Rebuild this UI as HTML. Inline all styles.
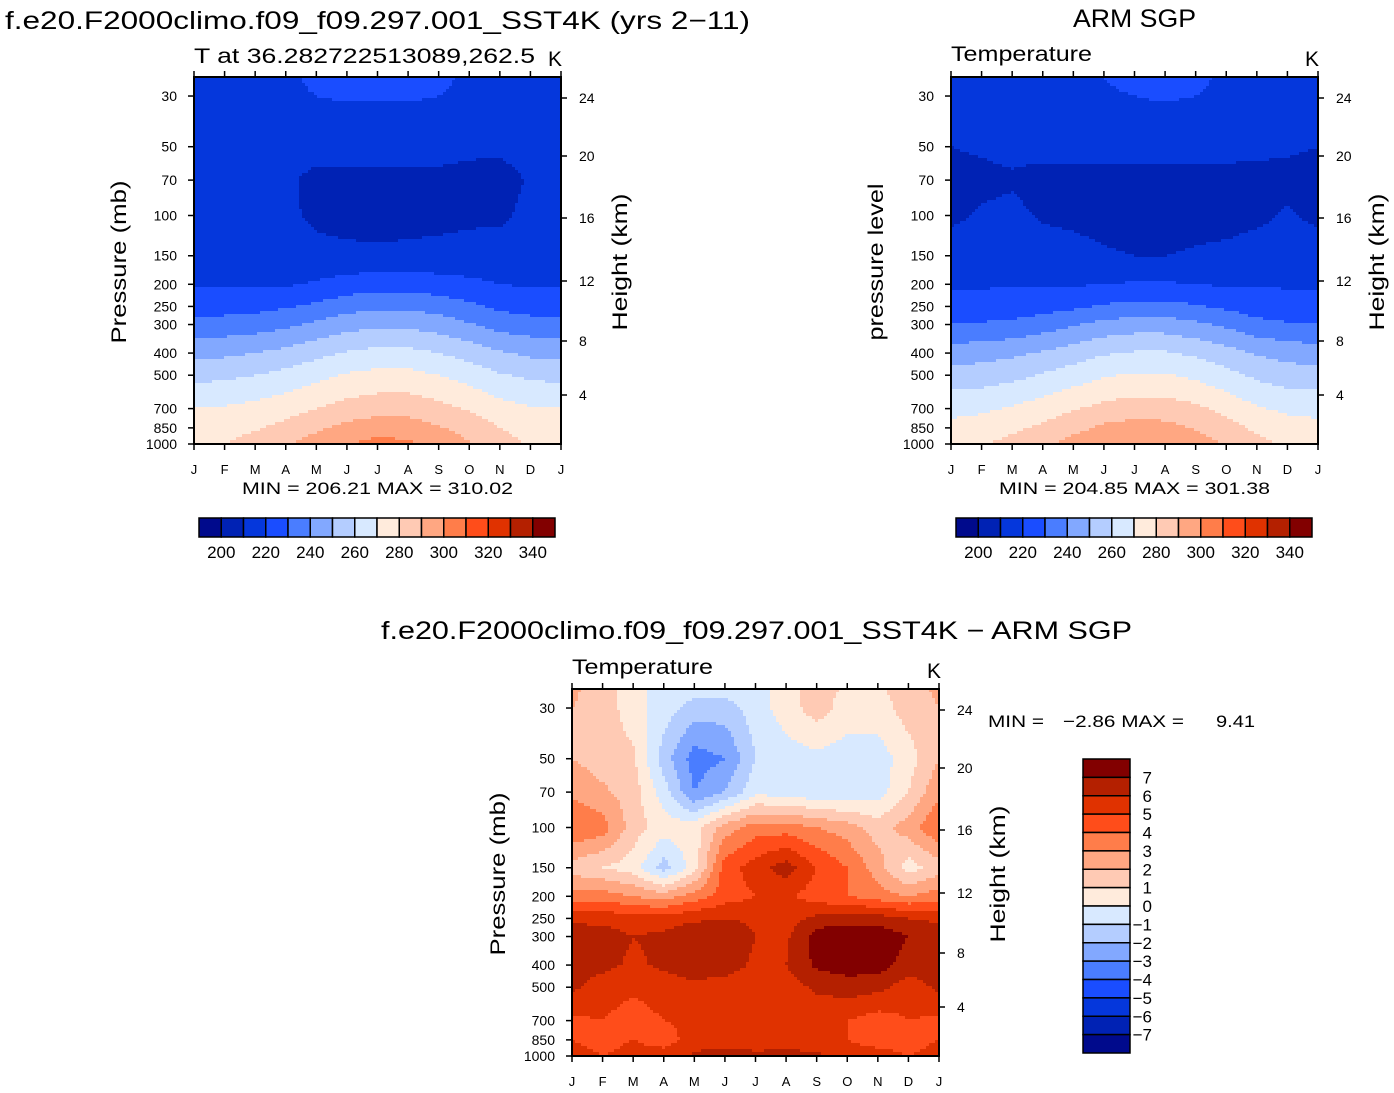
<!DOCTYPE html>
<html><head><meta charset="utf-8">
<style>
html,body{margin:0;padding:0;background:#fff;}
svg{display:block;font-family:"Liberation Sans",sans-serif;}
</style></head>
<body>
<svg id="fig" width="1394" height="1093" viewBox="0 0 1394 1093" xmlns="http://www.w3.org/2000/svg">
<g id="texts">
<text x="5" y="29" font-size="25" textLength="745" lengthAdjust="spacingAndGlyphs">f.e20.F2000climo.f09_f09.297.001_SST4K (yrs 2−11)</text>
<text x="1073" y="27" font-size="25" textLength="123" lengthAdjust="spacingAndGlyphs">ARM SGP</text>
<text x="194" y="63" font-size="21" textLength="341" lengthAdjust="spacingAndGlyphs">T at 36.282722513089,262.5</text>
<text x="548" y="66" font-size="21">K</text>
<text x="951" y="61" font-size="21" textLength="141" lengthAdjust="spacingAndGlyphs">Temperature</text>
<text x="1305" y="66" font-size="21">K</text>
<text x="242" y="494" font-size="17" textLength="271" lengthAdjust="spacingAndGlyphs">MIN  =  206.21  MAX  =  310.02</text>
<text x="999" y="494" font-size="17" textLength="271" lengthAdjust="spacingAndGlyphs">MIN  =  204.85  MAX  =  301.38</text>
<text x="381" y="639" font-size="25" textLength="751" lengthAdjust="spacingAndGlyphs">f.e20.F2000climo.f09_f09.297.001_SST4K − ARM SGP</text>
<text x="572" y="674" font-size="21" textLength="141" lengthAdjust="spacingAndGlyphs">Temperature</text>
<text x="927" y="678" font-size="21">K</text>
<text x="988" y="727" font-size="17" textLength="56" lengthAdjust="spacingAndGlyphs">MIN  =</text>
<text x="1063" y="727" font-size="17" textLength="121" lengthAdjust="spacingAndGlyphs">−2.86  MAX  =</text>
<text x="1216" y="727" font-size="17" textLength="39" lengthAdjust="spacingAndGlyphs">9.41</text>
<text transform="translate(126,262) rotate(-90)" font-size="21" text-anchor="middle" textLength="163" lengthAdjust="spacingAndGlyphs">Pressure  (mb)</text>
<text transform="translate(627,262) rotate(-90)" font-size="21" text-anchor="middle" textLength="137" lengthAdjust="spacingAndGlyphs">Height  (km)</text>
<text transform="translate(883,262) rotate(-90)" font-size="21" text-anchor="middle" textLength="157" lengthAdjust="spacingAndGlyphs">pressure  level</text>
<text transform="translate(1384,262) rotate(-90)" font-size="21" text-anchor="middle" textLength="137" lengthAdjust="spacingAndGlyphs">Height  (km)</text>
<text transform="translate(505,874) rotate(-90)" font-size="21" text-anchor="middle" textLength="163" lengthAdjust="spacingAndGlyphs">Pressure  (mb)</text>
<text transform="translate(1005,874) rotate(-90)" font-size="21" text-anchor="middle" textLength="137" lengthAdjust="spacingAndGlyphs">Height  (km)</text>
</g>
</svg>
<script>
const months=['J','F','M','A','M','J','J','A','S','O','N','D','J'];
const plev=[1000,850,700,500,400,300,250,200,150,100,70,50,30,25];
const pLabels=[30,50,70,100,150,200,250,300,400,500,700,850,1000];
const hLabels=[24,20,16,12,8,4];
const hPos=[21,79,141,204,264,318];
const topColors=['#000a8c','#0022b4','#0537dc','#1a4dff','#4a7dff','#82a8ff','#b4cdff','#d8e9ff','#ffebdc','#ffcab4','#ffa782','#ff7d4a','#ff4d1a','#e03200','#b42000','#820000'];
const topBarLabels=[200,220,240,260,280,300,320,340];
const diffBarLabels=[7,6,5,4,3,2,1,0,-1,-2,-3,-4,-5,-6,-7];
const tModel=[
[278,280,284,289,295,300,303,302,297,291,284,279,278],
[275,276,279,283,288,293,296,295,291,286,280,276,275],
[270,271,273,276,280,284,286,286,283,279,274,271,270],
[257,258,260,263,267,271,273,273,270,266,261,258,257],
[247,248,250,253,257,261,263,263,260,256,251,248,247],
[233,234,235,238,242,246,248,248,245,241,236,234,233],
[226,226,227,229,232,236,238,238,236,232,228,226,226],
[219,219,219,219,221,224,226,226,224,222,220,219,219],
[215,215,215,215,213,212,212,212,213,214,215,215,215],
[214,214,214,212,208,207,206,207,207,208,208,213,214],
[214,214,214,212,207,208,208,208,208,207,206,211,214],
[215,215,215,215,214,213,213,213,213,212,212,214,215],
[219,219,219,219,220,221,221,221,220,219,219,219,219],
[219,219,219,219,221,222,222,222,221,219,219,219,219]];
const tObs=[
[277,279,283,288,294,298,301,300,295,289,283,278,277],
[273,275,278,282,287,292,294,293,289,284,278,274,273],
[267,268,271,275,279,283,285,285,282,277,271,268,267],
[254,255,257,261,265,269,271,271,268,263,258,255,254],
[245,246,248,251,255,259,261,261,258,254,249,246,245],
[230,231,232,235,239,243,245,245,242,238,233,231,230],
[224,224,225,226,228,231,233,233,231,228,225,224,224],
[219,219,219,219,219,220,221,221,220,219,219,219,219],
[215,215,215,214,213,211,210,210,211,212,214,215,215],
[208,211,212,209,208,207,206,206,207,207,208,211,208],
[207,208,209,207,207,207,207,207,207,207,207,208,207],
[210,211,212,213,213,213,213,213,213,213,212,211,210],
[218,218,218,219,219,219,220,221,220,219,218,218,218],
[218,218,218,219,219,220,222,222,221,219,218,218,218]];
const tDiff=[
[5.5,5,5.5,5.5,6.2,6.5,6.5,6.3,6.2,5.5,5.5,5,5.5],
[5,4.5,5,4.5,5.5,5.5,5,5.5,5.5,5,4.5,4.5,5],
[4.8,5,4.5,5,5.2,5,5.5,5,5.2,5,4.5,5,4.8],
[6.2,5.5,5.2,5.5,5.8,5.5,5.2,5.5,6.2,6.5,6.3,5.5,6.2],
[6.5,6.3,5.8,6.2,6.5,6.5,5.8,6,7.2,7.5,7.5,6.5,6.5],
[6.5,6.5,6,6.2,6.8,6.8,6,5.8,7.5,8,7.8,7,6.5],
[5.8,5.7,5.5,5.5,5.8,6,5.8,5.5,6.3,6.5,6.5,6,5.8],
[3.5,3.5,3,2.5,3.5,4.5,5,5.2,4.5,4,3.5,3,3.5],
[1.5,1,0.5,-1.5,0.5,4.5,5.5,6.5,5,4,2.5,0.5,1.5],
[4,3.5,1.5,0.5,0.5,2.5,3.5,3.5,3,2.5,1.5,2.5,4],
[2.8,2.2,1.5,-0.5,-3,-2,-0.3,-0.5,-0.8,-0.8,-0.5,1,2.8],
[2,1.5,1.2,-1.5,-3.5,-3,-1,-0.5,-0.3,-0.5,-0.5,0.5,2],
[2,1.5,0.5,-0.5,-1.5,-1.5,-0.5,0.5,1.5,0.5,0.5,1.5,2],
[2.2,1.5,0.5,-0.5,-0.5,-0.5,-0.5,0.5,1.5,0.8,0.8,1.5,2.2]];

const NS='http://www.w3.org/2000/svg';
const svg=document.getElementById('fig');
function mk(tag,attrs,parent){const e=document.createElementNS(NS,tag);for(const k in attrs)e.setAttribute(k,attrs[k]);(parent||svg).appendChild(e);return e;}
const W=367,H=367,PXD=228.5;
function yOfP(y0,p){return y0+H-Math.log10(1000/p)*PXD;}
function pOfY(y0,y){return 1000/Math.pow(10,(y0+H-y)/PXD);}
function xOfM(x0,m){return x0+m*W/12;}
function sample(data,m,p){
  let k=0;
  while(k<plev.length-2 && p<plev[k+1])k++;
  const a=Math.log(plev[k]),b=Math.log(plev[k+1]);
  let t=(Math.log(p)-a)/(b-a);t=Math.max(0,Math.min(1,t));
  const i=Math.max(0,Math.min(11,Math.floor(m))),u=m-i;
  const v0=data[k][i]*(1-u)+data[k][i+1]*u;
  const v1=data[k+1][i]*(1-u)+data[k+1][i+1]*u;
  return v0*(1-t)+v1*t;
}
function addRun(g,x,y,w,h,idx){
  const r=mk('rect',{x:x,y:y,width:w+0.5,height:h+0.5,fill:topColors[idx]},g);
  
  
}
function drawPanel(name,x0,y0,data,idxFn){
  const g=mk('g',{});
  
  
  const step=3,nx=Math.ceil(W/step),ny=Math.ceil(H/step);
  for(let j=0;j<ny;j++){
    const y=y0+j*step,hh=Math.min(step,y0+H-y);
    const p=pOfY(y0,y+hh/2);
    let runStart=x0,runIdx=null;
    for(let i=0;i<nx;i++){
      const x=x0+i*step,ww=Math.min(step,x0+W-x);
      const m=Math.min(12,(x+ww/2-x0)/W*12);
      const idx=idxFn(sample(data,m,p));
      if(idx!==runIdx){
        if(runIdx!==null)addRun(g,runStart,y,x-runStart,hh,runIdx);
        runStart=x;runIdx=idx;
      }
    }
    addRun(g,runStart,y,x0+W-runStart-0.5,hh,runIdx);
  }
  const f=mk('rect',{x:x0,y:y0,width:W,height:H,fill:'none',stroke:'#000','stroke-width':2},g);
  
  
  months.forEach((mo,i)=>{
    const x=xOfM(x0,i);
    mk('line',{x1:x,y1:y0+H,x2:x,y2:y0+H+6,stroke:'#000','stroke-width':1.5},g);
    mk('line',{x1:x,y1:y0,x2:x,y2:y0-6,stroke:'#000','stroke-width':1.5},g);
    const t=mk('text',{x:x,y:y0+H+30,'font-size':13,'text-anchor':'middle'},g);
    t.textContent=mo;
    
    
  });
  pLabels.forEach(p=>{
    const y=yOfP(y0,p);
    mk('line',{x1:x0,y1:y,x2:x0-6,y2:y,stroke:'#000','stroke-width':1.5},g);
    const t=mk('text',{x:x0-17,y:y+5,'font-size':14,'text-anchor':'end'},g);
    t.textContent=p;
    
    
  });
  hLabels.forEach((h,i)=>{
    const y=y0+hPos[i];
    mk('line',{x1:x0+W,y1:y,x2:x0+W+6,y2:y,stroke:'#000','stroke-width':1.5},g);
    const t=mk('text',{x:x0+W+18,y:y+5,'font-size':14},g);
    t.textContent=h;
    
    
  });
}
const topIdx=v=>Math.max(0,Math.min(15,Math.floor((v-190)/10)));
const diffIdx=v=>Math.max(0,Math.min(15,Math.floor(v)+8));
drawPanel('model-temperature-panel',194,77,tModel,topIdx);
drawPanel('obs-temperature-panel',951,77,tObs,topIdx);
drawPanel('difference-panel',572,689,tDiff,diffIdx);

function hbar(name,x0,y0){
  const g=mk('g',{});
  
  
  const bw=356/16;
  topColors.forEach((c,i)=>{
    const r=mk('rect',{x:x0+i*bw,y:y0,width:bw,height:19,fill:c,stroke:'#000','stroke-width':1.5},g);
    
    
  });
  topBarLabels.forEach((v,i)=>{
    const t=mk('text',{x:x0+(1+2*i)*bw,y:y0+40,'font-size':17,'text-anchor':'middle'},g);
    t.textContent=v;
    
    
  });
}
hbar('left-colorbar',199,518);
hbar('right-colorbar',956,518);
(function(){
  const g=mk('g',{});
  
  
  const x0=1083,y0=759,bh=294/16;
  for(let i=0;i<16;i++){
    const r=mk('rect',{x:x0,y:y0+i*bh,width:47,height:bh,fill:topColors[15-i],stroke:'#000','stroke-width':1.5},g);
    
    
  }
  diffBarLabels.forEach(v=>{
    const y=y0+(8-v)*bh;
    const t=mk('text',{x:1152,y:y+6,'font-size':17,'text-anchor':'end'},g);
    t.textContent=(v<0?'−'+(-v):String(v));
    
    
  });
})();
</script>
</body></html>
